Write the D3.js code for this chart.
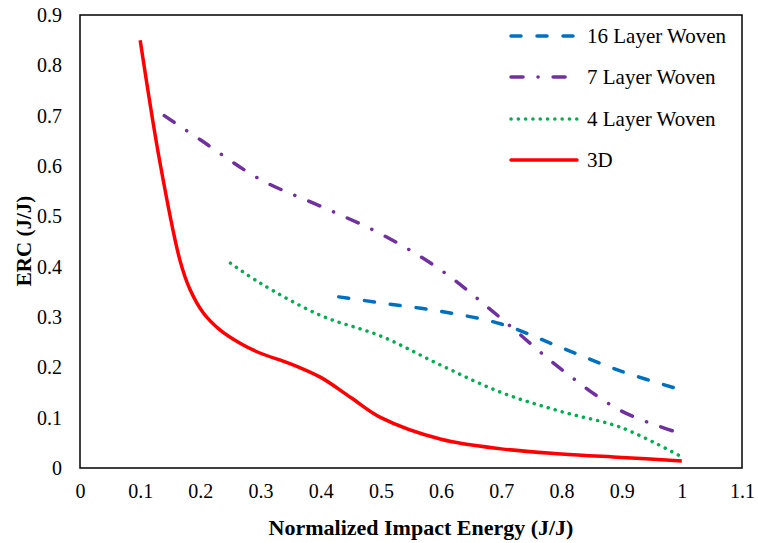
<!DOCTYPE html>
<html><head><meta charset="utf-8">
<script src="https://cdn.jsdelivr.net/npm/d3@7"></script>
<style>body{margin:0;background:#fff}</style>
</head><body>
<svg id="c" width="758" height="543"></svg>
<script>
const xTicks = [0,0.1,0.2,0.3,0.4,0.5,0.6,0.7,0.8,0.9,1,1.1];
const yTicks = [0,0.1,0.2,0.3,0.4,0.5,0.6,0.7,0.8,0.9];
const seriesNames = ["16 Layer Woven","7 Layer Woven","4 Layer Woven","3D"];
const layer16 = [[0.43,0.340],[0.5,0.328],[0.6,0.311],[0.7,0.286],[0.8,0.239],[0.9,0.192],[1.0,0.155]];
const layer7 = [[0.14,0.700],[0.2,0.652],[0.3,0.573],[0.4,0.520],[0.5,0.465],[0.6,0.393],[0.7,0.297],[0.8,0.196],[0.9,0.113],[1.0,0.068]];
const layer4 = [[0.25,0.407],[0.3,0.367],[0.4,0.303],[0.5,0.262],[0.6,0.204],[0.7,0.150],[0.8,0.112],[0.9,0.080],[1.0,0.022]];
const d3D = [[0.1,0.850],[0.133,0.606],[0.166,0.413],[0.183,0.354],[0.205,0.308],[0.233,0.274],[0.266,0.248],[0.3,0.228],[0.35,0.207],[0.4,0.180],[0.45,0.140],[0.5,0.100],[0.6,0.057],[0.7,0.038],[0.8,0.028],[0.9,0.021],[1.0,0.014]];

const svg = d3.select("#c");
const L=80,R=742,T=15,B=468;
const x = d3.scaleLinear().domain([0,1.1]).range([L,R]);
const y = d3.scaleLinear().domain([0,0.9]).range([B,T]);
const font = "'Liberation Serif','Times New Roman',serif";

svg.append("rect").attr("x",L).attr("y",T).attr("width",R-L).attr("height",B-T)
  .attr("fill","none").attr("stroke","#000").attr("stroke-width",1.5);

const xa = svg.append("g").attr("transform",`translate(0,${B})`)
  .call(d3.axisBottom(x).tickValues(xTicks).tickSize(0).tickPadding(16).tickFormat(d3.format("")));
xa.select(".domain").remove();
xa.selectAll("text").attr("font-family",font).attr("font-size",20).attr("fill","#000");
const ya = svg.append("g").attr("transform",`translate(${L},0)`)
  .call(d3.axisLeft(y).tickValues(yTicks).tickSize(0).tickPadding(18).tickFormat(d3.format("")));
ya.select(".domain").remove();
ya.selectAll("text").attr("font-family",font).attr("font-size",20).attr("fill","#000");

svg.append("text").attr("x",421).attr("y",535).attr("text-anchor","middle")
  .attr("font-family",font).attr("font-weight","bold").attr("font-size",22).text("Normalized Impact Energy (J/J)");
svg.append("text").attr("transform","translate(31,241) rotate(-90)").attr("text-anchor","middle")
  .attr("font-family",font).attr("font-weight","bold").attr("font-size",21).text("ERC (J/J)");

const line = d3.line().x(d=>x(d[0])).y(d=>y(d[1])).curve(d3.curveCatmullRom.alpha(0.5));
const styles = [
  {data:layer16,color:"#0070C0",w:3.5,dash:"10,16",cap:"round"},
  {data:layer7,color:"#7030A0",w:3.5,dash:"12,15,0.1,15",cap:"round"},
  {data:layer4,color:"#00B050",w:3.5,dash:"0.1,7.2",cap:"round"},
  {data:d3D,color:"#FF0000",w:3.5,dash:null,cap:"butt"}
];
styles.forEach(s=>{
  svg.append("path").attr("d",line(s.data)).attr("fill","none").attr("stroke",s.color)
    .attr("stroke-width",s.w).attr("stroke-dasharray",s.dash).attr("stroke-linecap",s.cap);
});

const ly=[36,77,119,160];
seriesNames.forEach((n,i)=>{
  const s=styles[i];
  svg.append("line").attr("x1",511).attr("x2",577).attr("y1",ly[i]).attr("y2",ly[i])
    .attr("stroke",s.color).attr("stroke-width",s.w).attr("stroke-dasharray",s.dash).attr("stroke-linecap",s.cap==="butt"?"round":s.cap);
  svg.append("text").attr("x",587).attr("y",ly[i]+7).attr("font-family",font).attr("font-size",21).text(n);
});
</script>
</body></html>
